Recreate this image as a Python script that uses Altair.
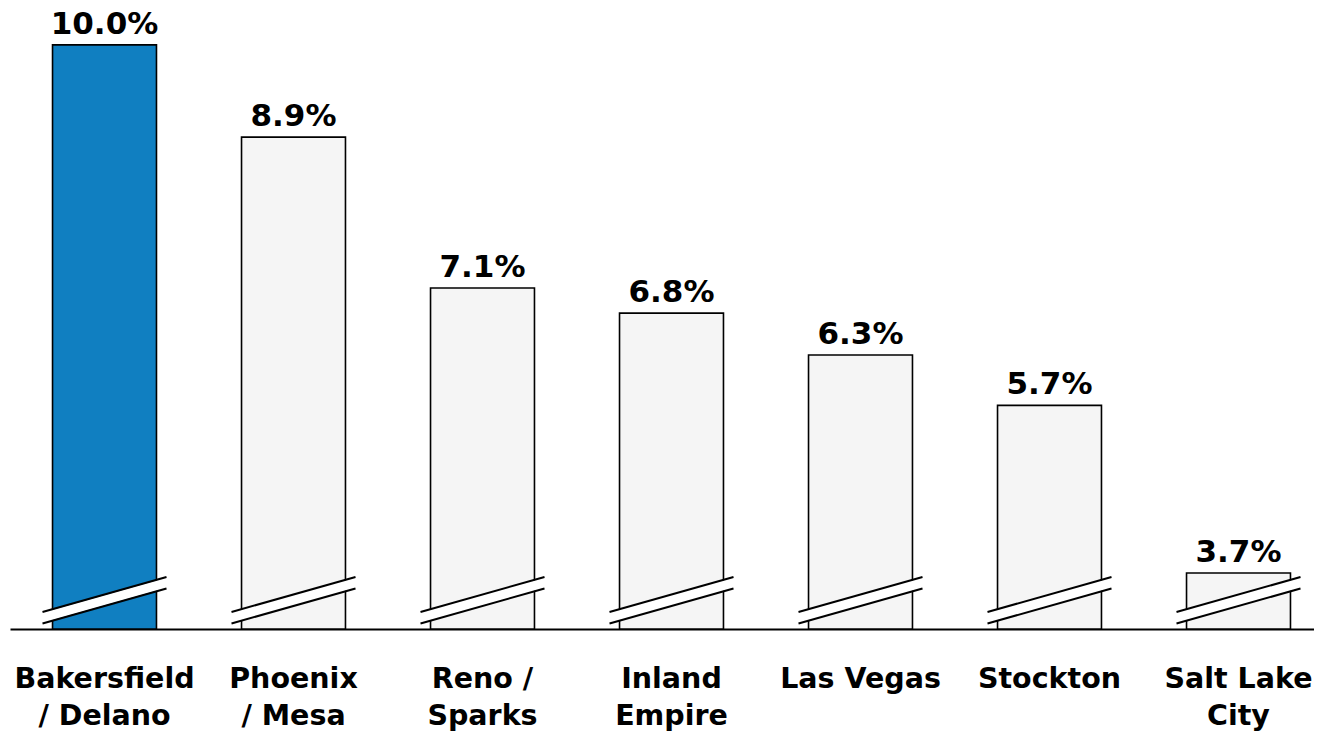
import altair as alt
import pandas as pd

cities = ["Bakersfield|/ Delano", "Phoenix|/ Mesa", "Reno /|Sparks", "Inland|Empire",
          "Las Vegas", "Stockton", "Salt Lake|City"]
values = [10.0, 8.9, 7.1, 6.8, 6.3, 5.7, 3.7]
labels = ["10.0%", "8.9%", "7.1%", "6.8%", "6.3%", "5.7%", "3.7%"]
highlight = [True, False, False, False, False, False, False]

BREAK_AT = 3.375
Y_DOMAIN = [3.032, 10.44]

df = pd.DataFrame({"city": cities, "value": values, "label": labels,
                   "hl": ["yes" if h else "no" for h in highlight]})

FONT = "DejaVu Sans"

x = alt.X("city:N", sort=cities, title=None,
          scale=alt.Scale(paddingInner=0.45, paddingOuter=0.225, range=[0, 1323]),
          axis=alt.Axis(labelExpr="split(datum.label, '|')", labelAngle=0,
                        labelFont=FONT, labelFontWeight="bold", labelFontSize=28.5,
                        labelColor="black", labelLineHeight=37, labelBaseline="top",
                        labelPadding=35, ticks=False, domainColor="black",
                        domainWidth=2.2, labelLimit=400))
y_scale = alt.Scale(domain=Y_DOMAIN, zero=False, nice=False, clamp=False)

base = alt.Chart(df)

bars = base.mark_bar(stroke="black", strokeWidth=1.6, clip=False).encode(
    x=x,
    y=alt.Y("value:Q", scale=y_scale, axis=None),
    y2=alt.datum(Y_DOMAIN[0]),
    color=alt.Color("hl:N", scale=alt.Scale(domain=["yes", "no"], range=["#107FC1", "#F5F5F5"]),
                    legend=None),
)

text = base.mark_text(font=FONT, fontWeight="bold", fontSize=31, baseline="alphabetic",
                      dy=-11, color="black").encode(
    x=alt.X("city:N", sort=cities),
    y=alt.Y("value:Q", scale=y_scale, axis=None),
    text="label:N",
)

brk = base.transform_calculate(brk=str(BREAK_AT))

white = brk.mark_rule(color="white", strokeWidth=10, strokeCap="butt",
                      xOffset=-62, x2Offset=62, yOffset=17.5, y2Offset=-17.5).encode(
    x=alt.X("city:N", sort=cities), x2="city:N",
    y=alt.Y("brk:Q", scale=y_scale, axis=None), y2="brk:Q")

line1 = brk.mark_rule(color="black", strokeWidth=2,
                      xOffset=-62, x2Offset=62, yOffset=11.75, y2Offset=-23.25).encode(
    x=alt.X("city:N", sort=cities), x2="city:N",
    y=alt.Y("brk:Q", scale=y_scale, axis=None), y2="brk:Q")

line2 = brk.mark_rule(color="black", strokeWidth=2,
                      xOffset=-62, x2Offset=62, yOffset=23.25, y2Offset=-11.75).encode(
    x=alt.X("city:N", sort=cities), x2="city:N",
    y=alt.Y("brk:Q", scale=y_scale, axis=None), y2="brk:Q")

chart = alt.layer(bars, text, white, line1, line2).properties(
    width=1304, height=621,
    autosize=alt.AutoSizeParams(type="none"),
    padding={"left": 2, "top": 0, "right": 0, "bottom": 102},
).configure(background="white").configure_view(stroke=None)

chart.save("out.html", embed_options={"renderer": "svg", "actions": False})
